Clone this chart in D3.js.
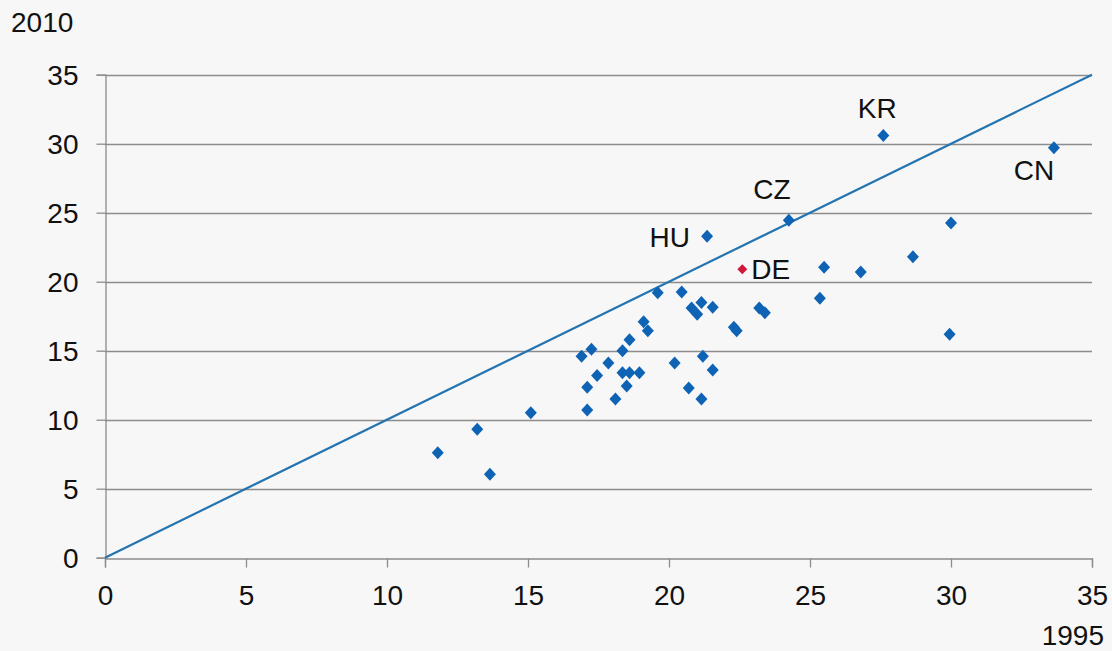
<html>
<head>
    <script src="https://d3js.org/d3.v7.min.js"></script>
    <style>
        body { margin:0; background:#f7f7f7; }
        text { font-family:"Liberation Sans", Arial, sans-serif; fill:#111; }
    </style>
</head>
<body>
    <svg id="chart" width="1112" height="651"></svg>
    <script>
        // values: x = 1995, y = 2010
        var x1995 = [11.8, 13.2, 13.65, 15.1, 17.1, 17.1, 16.9, 17.25, 17.45, 17.85, 18.1, 18.35, 18.35, 18.6, 18.5,
                     18.6, 18.95, 19.1, 19.25, 19.6, 20.2, 20.45, 20.7, 20.8, 21.0, 21.15, 21.15, 21.2, 21.55, 21.55,
                     22.3, 22.4, 23.2, 23.4, 25.35, 25.5, 26.8, 28.65, 30.0, 29.95];
        var y2010 = [7.6, 9.3, 6.05, 10.5, 10.7, 12.35, 14.6, 15.1, 13.2, 14.1, 11.5, 15.0, 13.4, 13.4, 12.45,
                     15.8, 13.4, 17.1, 16.45, 19.2, 14.1, 19.25, 12.3, 18.1, 17.65, 18.5, 11.5, 14.6, 18.15, 13.6,
                     16.7, 16.45, 18.1, 17.75, 18.8, 21.05, 20.7, 21.8, 24.25, 16.2];
        var labelled = ["HU", "CZ", "KR", "CN"];
        var labelledX = [21.35, 24.25, 27.6, 33.65];
        var labelledY = [23.3, 24.45, 30.6, 29.7];
        var deX = 22.6, deY = 20.9;
        var ticks = [0, 5, 10, 15, 20, 25, 30, 35];

        var svg = d3.select("#chart");
        var x = d3.scaleLinear().domain([0, 35]).range([105, 1092]);
        var y = d3.scaleLinear().domain([0, 35]).range([557.7, 74.7]);

        // horizontal gridlines
        svg.selectAll("line.grid").data(ticks.slice(1)).enter().append("line")
            .attr("class", "grid")
            .attr("x1", x(0)).attr("x2", x(35))
            .attr("y1", function(d){ return Math.round(y(d)) + 0.5; })
            .attr("y2", function(d){ return Math.round(y(d)) + 0.5; })
            .style("stroke", "#8c8c8c").style("stroke-width", 1.3);

        var yAxis = svg.append("g")
            .attr("transform", "translate(" + (x(0) + 0.5) + ",0)")
            .call(d3.axisLeft(y).tickValues(ticks).tickSize(9).tickPadding(18));
        var xAxis = svg.append("g")
            .attr("transform", "translate(0," + (Math.round(y(0)) + 0.5) + ")")
            .call(d3.axisBottom(x).tickValues(ticks).tickSize(9).tickPadding(18));
        [xAxis, yAxis].forEach(function(a){
            a.select(".domain").style("stroke", "#8c8c8c").style("stroke-width", 1.3);
            a.selectAll(".tick line").style("stroke", "#8c8c8c").style("stroke-width", 1.3);
            a.selectAll("text").style("font-size", "28px").style("font-family", "Liberation Sans, Arial, sans-serif").attr("fill", "#111");
        });
        xAxis.selectAll(".tick text").attr("dy", "0.71em").attr("y", 27);
        yAxis.selectAll(".tick text").attr("dy", "0.36em");

        svg.append("text").attr("x", 11).attr("y", 32).style("font-size", "28px").text("2010");
        svg.append("text").attr("x", 1104).attr("y", 645).attr("text-anchor", "end").style("font-size", "28px").text("1995");

        // 45 degree line
        svg.append("line")
            .attr("x1", x(0)).attr("y1", y(0)).attr("x2", x(35)).attr("y2", y(35))
            .style("stroke", "#2374b0").style("stroke-width", 2.2);

        var diamond = function(w, h){ return "M0," + (-h/2) + "L" + (w/2) + ",0L0," + (h/2) + "L" + (-w/2) + ",0Z"; };
        var pts = x1995.map(function(d, i){ return [d, y2010[i]]; })
            .concat(labelledX.map(function(d, i){ return [d, labelledY[i]]; }));

        svg.selectAll("path.pt").data(pts).enter().append("path")
            .attr("class", "pt")
            .attr("d", diamond(12, 13))
            .attr("transform", function(d){ return "translate(" + x(d[0]) + "," + y(d[1]) + ")"; })
            .style("fill", "#0e63b5");

        svg.append("path").attr("d", diamond(10, 10))
            .attr("transform", "translate(" + x(deX) + "," + y(deY) + ")")
            .style("fill", "#d0183c");

        // country labels
        var labelPos = {
            HU: [-17, 11, "end"], CZ: [-17, -21, "middle"], KR: [-6, -17, "middle"], CN: [-20, 32, "middle"]
        };
        labelled.forEach(function(c, i){
            var p = labelPos[c];
            svg.append("text")
                .attr("x", x(labelledX[i]) + p[0]).attr("y", y(labelledY[i]) + p[1])
                .attr("text-anchor", p[2]).style("font-size", "28px").text(c);
        });
        svg.append("text").attr("x", x(deX) + 9).attr("y", y(deY) + 10)
            .style("font-size", "28px").text("DE");
    </script>
</body>
</html>
